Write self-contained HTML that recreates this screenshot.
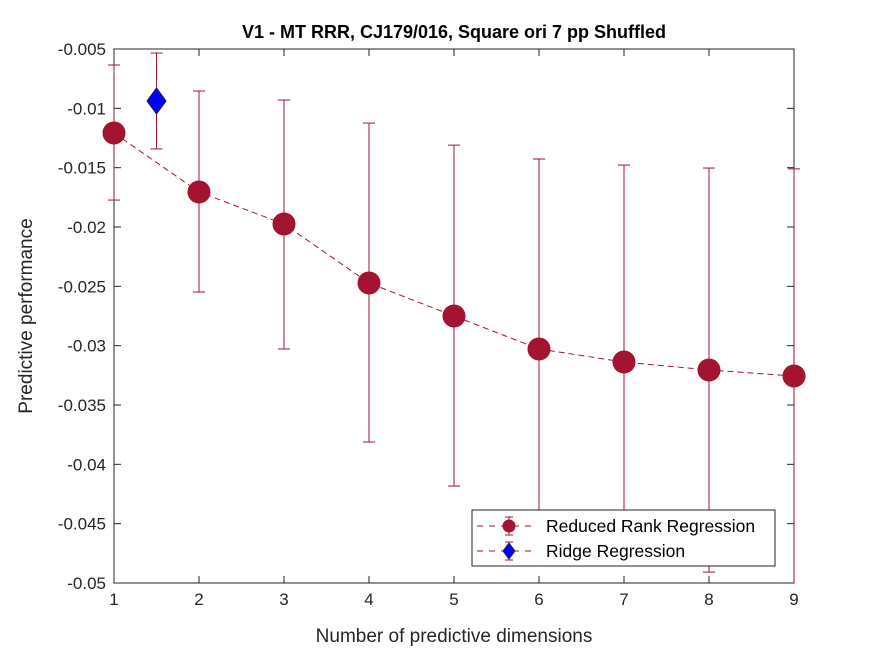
<!DOCTYPE html>
<html><head><meta charset="utf-8"><style>
body{margin:0;background:#fff;}
svg text{font-family:"Liberation Sans",Arial,sans-serif;}
</style></head><body>
<svg id="chart" width="875" height="656" xmlns="http://www.w3.org/2000/svg">
<rect width="875" height="656" fill="#fff"/>
</svg>
<script>
const dims=[1,2,3,4,5,6,7,8,9];
const rrrMean=[-0.01208,-0.01705,-0.01975,-0.02472,-0.0275,-0.03028,-0.03138,-0.03205,-0.03256];
const rrrUpper=[-0.00635,-0.00854,-0.0093,-0.01124,-0.0131,-0.01427,-0.01478,-0.01503,-0.0151];
const rrrLower=[-0.01773,-0.02548,-0.03028,-0.03812,-0.04183,-0.0463,-0.048,-0.04908,-0.0502];
const ridgeX=[1.5];
const ridgeMean=[-0.00938];
const ridgeUpper=[-0.00534];
const ridgeLower=[-0.01342];
const xTicks=[1,2,3,4,5,6,7,8,9];
const yTicks=[-0.005,-0.01,-0.015,-0.02,-0.025,-0.03,-0.035,-0.04,-0.045,-0.05];
const yTickLabels=["-0.005","-0.01","-0.015","-0.02","-0.025","-0.03","-0.035","-0.04","-0.045","-0.05"];

const L=114,R=794,T=49,B=583;
const sx=v=>L+(v-1)/(9-1)*(R-L);
const sy=v=>T+(-0.005-v)/(0.045)*(B-T);
const svg=document.getElementById('chart');
const NS='http://www.w3.org/2000/svg';
function mk(tag,attrs,parent){const e=document.createElementNS(NS,tag);for(const k in attrs)e.setAttribute(k,attrs[k]);(parent||svg).appendChild(e);return e;}
const RED='#A2142F';

const box=mk('rect',{x:L,y:T,width:R-L,height:B-T,fill:'none',stroke:'#262626','stroke-width':1});



xTicks.forEach(t=>{
  const x=sx(t);
  mk('line',{x1:x,y1:B,x2:x,y2:B-7,stroke:'#262626'});
  mk('line',{x1:x,y1:T,x2:x,y2:T+7,stroke:'#262626'});
  const tx=mk('text',{x:x,y:B+22,'text-anchor':'middle','font-size':17,fill:'#262626'});
  tx.textContent=t;
  
  
});
yTicks.forEach((t,i)=>{
  const y=sy(t);
  mk('line',{x1:L,y1:y,x2:L+7,y2:y,stroke:'#262626'});
  mk('line',{x1:R,y1:y,x2:R-7,y2:y,stroke:'#262626'});
  const tx=mk('text',{x:L-8,y:y+6,'text-anchor':'end','font-size':17,fill:'#262626'});
  tx.textContent=yTickLabels[i];
  
  
});

const clip=mk('clipPath',{id:'c'});
mk('rect',{x:L-20,y:T,width:R-L+40,height:B-T},clip);
const g=mk('g',{'clip-path':'url(#c)'});

const pl=mk('polyline',{points:dims.map((d,i)=>sx(d)+','+sy(rrrMean[i])).join(' '),fill:'none',stroke:RED,'stroke-width':1,'stroke-dasharray':'6,4'},g);



function errbar(x,u,l,col){
  mk('line',{x1:x,y1:sy(u),x2:x,y2:sy(l),stroke:col},g);
  mk('line',{x1:x-6,y1:sy(u),x2:x+6,y2:sy(u),stroke:col},g);
  mk('line',{x1:x-6,y1:sy(l),x2:x+6,y2:sy(l),stroke:col},g);
}
dims.forEach((d,i)=>{
  errbar(sx(d),rrrUpper[i],rrrLower[i],RED);
  const c=mk('circle',{cx:sx(d),cy:sy(rrrMean[i]),r:11,fill:RED,stroke:RED},g);
  
  
});
ridgeX.forEach((d,i)=>{
  const x=sx(d),y=sy(ridgeMean[i]);
  errbar(x,ridgeUpper[i],ridgeLower[i],RED);
  const p=mk('polygon',{points:`${x},${y-13} ${x+9.5},${y} ${x},${y+13} ${x-9.5},${y}`,fill:'#0000ff',stroke:'#2a1a4a','stroke-width':1},g);
  
  
});

const title=mk('text',{x:(L+R)/2,y:38,'text-anchor':'middle','font-size':18,'font-weight':'bold',fill:'#000'});
title.textContent='V1 - MT RRR, CJ179/016, Square ori 7 pp Shuffled';


const xl=mk('text',{x:(L+R)/2,y:642,'text-anchor':'middle','font-size':19,fill:'#262626'});
xl.textContent='Number of predictive dimensions';


const yl=mk('text',{x:0,y:0,'text-anchor':'middle','font-size':19,fill:'#262626',transform:`translate(32,${(T+B)/2}) rotate(-90)`});
yl.textContent='Predictive performance';



const lg=mk('g',{});


mk('rect',{x:472,y:510,width:303,height:56,fill:'#fff',stroke:'#262626'},lg);
function legItem(y,label,diamond){
  const it=mk('g',{},lg);
  
  
  mk('line',{x1:477,y1:y,x2:536,y2:y,stroke:RED,'stroke-dasharray':'6,6'},it);
  mk('line',{x1:509,y1:y-9,x2:509,y2:y+9,stroke:RED},it);
  mk('line',{x1:505,y1:y-9,x2:513,y2:y-9,stroke:RED},it);
  mk('line',{x1:505,y1:y+9,x2:513,y2:y+9,stroke:RED},it);
  if(diamond) mk('polygon',{points:`509,${y-8} 515,${y} 509,${y+8} 503,${y}`,fill:'#0000ff',stroke:'#2a1a4a'},it);
  else mk('circle',{cx:509,cy:y,r:6.5,fill:RED},it);
  const t=mk('text',{x:546,y:y+6,'font-size':17.5,fill:'#000'},it);
  t.textContent=label;
}
legItem(526,'Reduced Rank Regression',false);
legItem(551,'Ridge Regression',true);
</script>
</body></html>
